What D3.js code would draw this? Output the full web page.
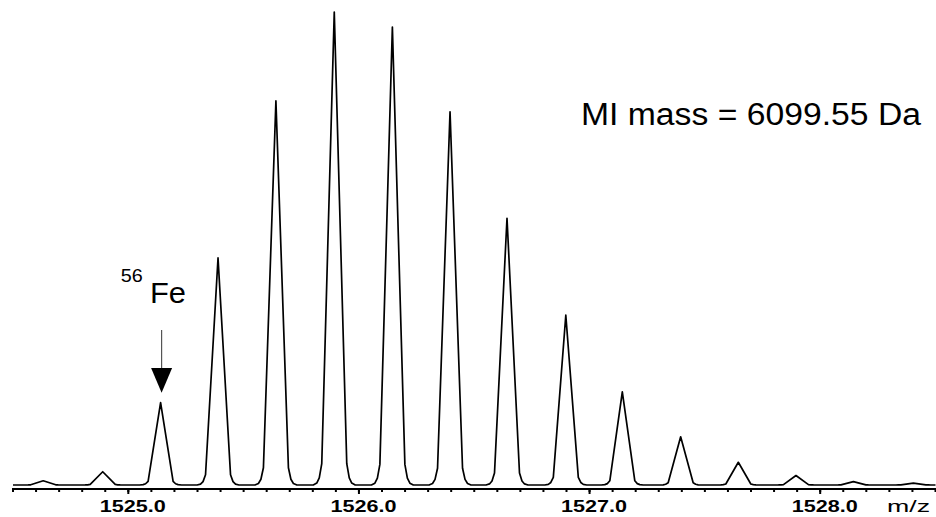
<!DOCTYPE html>
<html>
<head>
<meta charset="utf-8">
<script src="https://cdn.jsdelivr.net/npm/d3@7"></script>
<style>
  html, body { margin: 0; padding: 0; background: #fff; }
  svg { display: block; }
  text { font-family: "Liberation Sans", Arial, sans-serif; fill: #000; }
</style>
</head>
<body>
<svg id="chart" width="936" height="517"></svg>
<script>
// ---- data ----
const peakMz = [1524.631, 1524.889, 1525.140, 1525.389, 1525.640, 1525.893, 1526.145, 1526.395,
                1526.642, 1526.897, 1527.142, 1527.395, 1527.645, 1527.895, 1528.144, 1528.404];
const peakIntensity = [0.9, 2.8, 17.4, 48.0, 81.2, 100, 96.8, 78.9,
                       56.4, 35.9, 19.7, 10.2, 4.8, 2.0, 0.7, 0.4];
// profile shape of one peak (m/z offset from centre, fraction of peak height)
const shapeOffset = [-0.091, -0.0759, -0.065, -0.0542, 0, 0.0542, 0.065, 0.0759, 0.091];
const shapeFraction = [0, 0.004, 0.015, 0.045, 1, 0.045, 0.015, 0.004, 0];
const majorTicks = [1525, 1526, 1527, 1528];
const tickLabels = ["1525.0", "1526.0", "1527.0", "1528.0"];
const mzRange = [1524.5, 1528.5];
const annotation = { text: "MI mass = 6099.55 Da", isotope: "56", element: "Fe", peakIndex: 2 };

// ---- drawing ----
const svg = d3.select("#chart");
svg.append("rect").attr("width", 936).attr("height", 517).attr("fill", "#fff");

const x = d3.scaleLinear().domain(mzRange).range([13, 935.5]);
const y = d3.scaleLinear().domain([0, 100]).range([485, 12]);

// build profile
const pts = [[mzRange[0], 0]];
peakMz.forEach((m, i) => {
  shapeOffset.forEach((o, j) => pts.push([m + o, peakIntensity[i] * shapeFraction[j]]));
});
pts.push([mzRange[1], 0]);

const line = d3.line().x(d => x(d[0])).y(d => y(d[1]));
svg.append("path").datum(pts)
  .attr("d", line)
  .attr("fill", "none")
  .attr("stroke", "#000")
  .attr("stroke-width", 1.7)
  .attr("stroke-linejoin", "round");

// axis
const minorTicks = d3.range(0, 41).map(i => mzRange[0] + i * 0.1);
const axisY = 489;
const ax = svg.append("g");
ax.append("line").attr("x1", x(mzRange[0]) - 1).attr("x2", 936)
  .attr("y1", axisY).attr("y2", axisY).attr("stroke", "#000").attr("stroke-width", 2);
ax.selectAll("line.minor").data(minorTicks).enter().append("line")
  .attr("class", "minor")
  .attr("x1", d => x(d)).attr("x2", d => x(d))
  .attr("y1", axisY).attr("y2", axisY + 3)
  .attr("stroke", "#000").attr("stroke-width", 2);
ax.selectAll("line.major").data(majorTicks).enter().append("line")
  .attr("class", "major")
  .attr("x1", d => x(d)).attr("x2", d => x(d))
  .attr("y1", axisY).attr("y2", axisY + 5)
  .attr("stroke", "#000").attr("stroke-width", 2);
ax.selectAll("text.tl").data(majorTicks).enter().append("text")
  .attr("class", "tl")
  .attr("x", d => x(d) + 4.5 - 33)
  .attr("y", 512)
  .attr("font-size", 17)
  .attr("font-weight", "bold")
  .attr("textLength", 66)
  .attr("lengthAdjust", "spacingAndGlyphs")
  .text((d, i) => tickLabels[i]);

svg.append("text").attr("x", 887).attr("y", 512)
  .attr("font-size", 17)
  .attr("textLength", 43).attr("lengthAdjust", "spacingAndGlyphs")
  .text("m/z");

// annotations
svg.append("text").attr("x", 581).attr("y", 124.5)
  .attr("font-size", 31)
  .attr("textLength", 340).attr("lengthAdjust", "spacingAndGlyphs")
  .text(annotation.text);

svg.append("text").attr("x", 120.7).attr("y", 281.7)
  .attr("font-size", 19)
  .attr("textLength", 22).attr("lengthAdjust", "spacingAndGlyphs")
  .text(annotation.isotope);
svg.append("text").attr("x", 150).attr("y", 303)
  .attr("font-size", 29)
  .attr("textLength", 36).attr("lengthAdjust", "spacingAndGlyphs")
  .text(annotation.element);

const ax0 = x(peakMz[annotation.peakIndex]) + 1;
svg.append("line").attr("x1", ax0).attr("x2", ax0).attr("y1", 330).attr("y2", 369)
  .attr("stroke", "#555").attr("stroke-width", 1.2);
svg.append("path")
  .attr("d", `M${ax0 - 10.5},368 L${ax0 + 10.5},368 L${ax0},392.7 Z`)
  .attr("fill", "#000");
</script>
</body>
</html>
